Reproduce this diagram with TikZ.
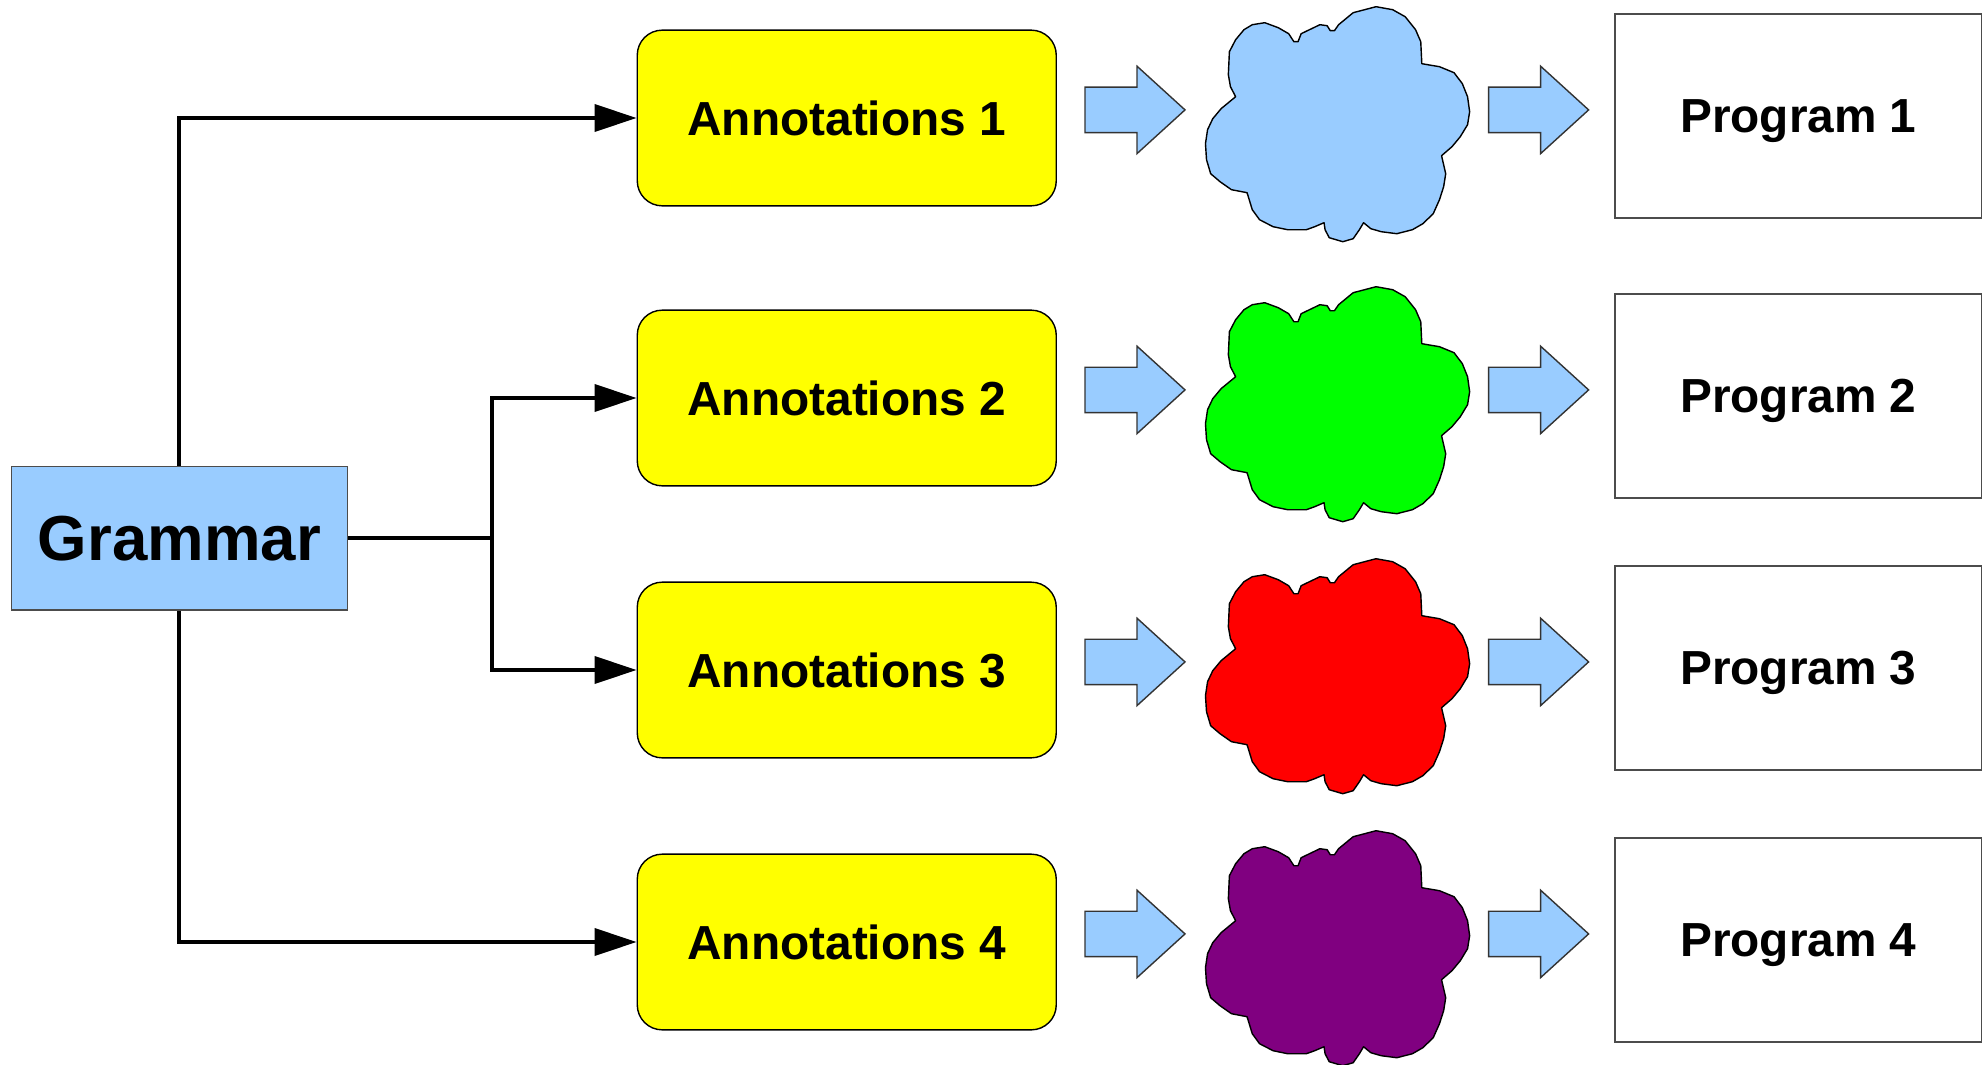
\documentclass[tikz,border=0pt]{standalone}
\usepackage{fontspec}
\setmainfont{Liberation Sans}
\usetikzlibrary{arrows.meta}
\definecolor{skyblue}{HTML}{99CCFF}
\definecolor{lgreen}{HTML}{00FF00}
\definecolor{lred}{HTML}{FF0000}
\definecolor{lpurple}{HTML}{800080}
\definecolor{lyellow}{HTML}{FFFF00}

\begin{document}
\begin{tikzpicture}[x=0.1mm, y=-0.1mm,
    gram/.style = {draw=black!70, fill=skyblue, minimum width=33.6mm, minimum height=14.34mm, inner sep=0pt, font=\fontsize{18.1}{22}\selectfont\bfseries},
    annot/.style = {draw, fill=lyellow, rounded corners=2.5mm, minimum width=41.9mm, minimum height=17.57mm, inner sep=0pt, font=\fontsize{13.6}{16}\selectfont\bfseries},
    prog/.style = {draw=black!70, fill=white, minimum width=36.67mm, minimum height=20.4mm, inner sep=0pt, text depth=0pt, font=\fontsize{13.6}{16}\selectfont\bfseries},
    conn/.style = {line width=1.1pt, -{Triangle[length=4.2mm, width=2.7mm]}},
    fatarrow/.style = {draw=black!80, fill=skyblue, line width=0.4pt, line join=miter},
    blob/.style = {draw, line width=0.4pt, line join=round}]
\useasboundingbox (0,0) rectangle (1988,1064);

\node[gram] (gram) at (179.4,538.3) {Grammar};

\foreach \i/\y/\c in {1/118/skyblue, 2/398/lgreen, 3/670/lred, 4/942/lpurple} {
    \node[annot] (ann\i) at (846.75,\y) {Annotations \i};
    \node[prog] (prog\i) at (1798.35,\y-2) {Program \i};
    % fat arrows either side of the cloud
    \foreach \x in {1085,1488.6}
        \draw[fatarrow] (\x,\y-8-22.8) -- ++(52,0) -- ++(0,-21) -- ++(48,43.7)
            -- ++(-48,43.7) -- ++(0,-21) -- ++(-52,0) -- cycle;
    % cloud
    \draw[blob, fill=\c, shift={(1336.5,\y+5.7)}, xscale=1.04, yscale=-1]
        (16,111) -- (38,117) -- (54,114) -- (66,107) -- (76,94) -- (81,82) -- (82,60)
        -- (99,57) -- (113,51) -- (121,40) -- (126,27) -- (128,12) -- (126,-1)
        -- (119,-13) -- (111,-23) -- (101,-32) -- (105,-50) -- (103,-63) -- (99,-76)
        -- (93,-90) -- (83,-100) -- (73,-106) -- (58,-110) -- (43,-108) -- (33,-105)
        -- (26,-99) -- (22,-106) -- (16,-115) -- (6,-118) -- (-7,-114) -- (-11,-106)
        -- (-12,-99) -- (-21,-103) -- (-29,-106) -- (-37,-106) -- (-47,-106)
        -- (-61,-103) -- (-74,-96) -- (-81,-86) -- (-86,-69) -- (-101,-66)
        -- (-112,-58) -- (-121,-50) -- (-125,-36) -- (-126,-20) -- (-124,-6)
        -- (-119,5) -- (-111,15) -- (-97,27) -- (-102,37) -- (-104,49) -- (-103,72)
        -- (-97,84) -- (-89,94) -- (-81,99) -- (-69,101) -- (-56,96) -- (-46,90)
        -- (-41,82) -- (-37,82) -- (-34,90) -- (-24,95) -- (-16,99) -- (-9,98)
        -- (-6,93) -- (-2,93) -- (2,99) -- cycle;
}

\coordinate (split) at (492,538.3);
\draw[conn] (gram.north) |- (ann1.west);
\draw[conn] (gram.south) |- (ann4.west);
\draw[line width=1.1pt] (gram.east) -- (split);
\draw[conn] (split) |- (ann2.west);
\draw[conn] (split) |- (ann3.west);
\end{tikzpicture}
\end{document}
